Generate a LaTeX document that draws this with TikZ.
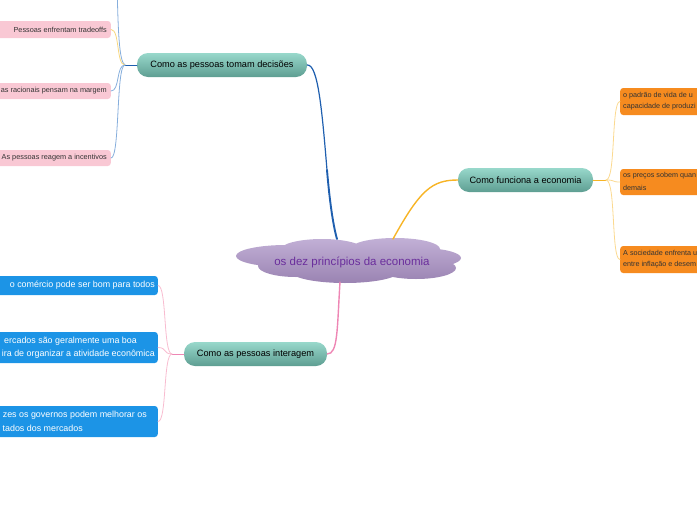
\documentclass[tikz,border=0pt]{standalone}
\usepackage{fontspec}
\setmainfont{Liberation Sans}
\definecolor{tealtop}{HTML}{98D8CB}
\definecolor{tealbot}{HTML}{5E9E92}
\definecolor{pinkfill}{HTML}{F9C8D4}
\definecolor{orangefill}{HTML}{F68B1F}
\definecolor{bluefill}{HTML}{1C94E6}
\definecolor{darkblueline}{HTML}{1F5FAF}
\definecolor{lightblueline}{HTML}{86AEDC}
\definecolor{yellowline}{HTML}{F7D77E}
\definecolor{orangeline}{HTML}{F7B425}
\definecolor{orangebranch}{HTML}{FBD98F}
\definecolor{pinkline}{HTML}{EE86B4}
\definecolor{pinkbranch}{HTML}{F8BCD0}
\definecolor{cloudtop}{HTML}{C2B0D6}
\definecolor{cloudbot}{HTML}{9A83B2}
\definecolor{cloudtext}{HTML}{6A2E9C}
\definecolor{darktext}{HTML}{333333}
\begin{document}
\begin{tikzpicture}[x=1pt,y=-1pt,
  pill/.style={rounded corners=11pt, top color=tealtop, bottom color=tealbot, draw=none,
    minimum height=24pt, inner sep=0pt, font=\fontsize{9.2}{11}\selectfont, text=black},
  pinkbox/.style={fill=pinkfill, rounded corners=3pt, inner sep=0pt},
  bluebox/.style={fill=bluefill, rounded corners=3pt, inner sep=0pt},
  orangebox/.style={fill=orangefill, rounded corners=3pt, inner sep=0pt},
  pinktext/.style={inner sep=0pt, text=darktext, font=\fontsize{7.3}{9}\selectfont},
  bluetext/.style={inner sep=0pt, text=white, font=\fontsize{8.9}{10}\selectfont},
  orangetext/.style={inner sep=0pt, text=darktext, font=\fontsize{7.2}{9}\selectfont},
  conn/.style={line cap=round, fill=none}]
\useasboundingbox (0,0) rectangle (697,520);
\clip (0,0) rectangle (697,520);

% central cloud
\shade[top color=cloudtop, bottom color=cloudbot]
  (286,256) ellipse [x radius=50, y radius=11]
  (322,250) ellipse [x radius=42, y radius=11]
  (395,249) ellipse [x radius=45, y radius=11]
  (420,258) ellipse [x radius=41, y radius=10]
  (296,266) ellipse [x radius=38, y radius=11]
  (345,271) ellipse [x radius=55, y radius=12]
  (416,268) ellipse [x radius=40, y radius=11]
  (350,260) ellipse [x radius=88, y radius=16];
\node[inner sep=0pt, text=cloudtext, font=\fontsize{11.5}{13}\selectfont] (root) at (352,262) {os dez princípios da economia};
\coordinate (ctop) at (337,239);
\coordinate (ctopr) at (393,239);
\coordinate (cbot) at (340,282);

% main topics
\node[pill, minimum width=170pt] (d1) at (222,65) {Como as pessoas tomam decisões};
\node[pill, minimum width=135pt] (d2) at (525.5,180) {Como funciona a economia};
\node[pill, minimum width=143pt] (d3) at (255.5,354) {Como as pessoas interagem};

% main connectors
\draw[conn, darkblueline, line width=1.2pt] (d1.east) .. controls (318,64) and (322,110) .. (327,170);
\draw[conn, darkblueline, line width=1.9pt] (327,170) .. controls (329.5,200) and (333,225) .. (ctop);
\draw[conn, orangeline, line width=1.4pt] (ctopr) .. controls (420,190) and (432,180) .. (d2.west);
\draw[conn, pinkline, line width=1.4pt] (cbot) .. controls (337,330) and (338,354) .. (d3.east);

% left upper branch
\node[pinkbox, minimum width=141pt, minimum height=17pt, anchor=east] (p1) at (111,29.5) {};
\node[pinktext, anchor=east] (p1t) at (107,30) {Pessoas enfrentam tradeoffs};
\node[pinkbox, minimum width=141pt, minimum height=16pt, anchor=east] (p2) at (111,91) {};
\node[pinktext, anchor=east] (p2t) at (107,91) {as racionais pensam na margem};
\node[pinkbox, minimum width=141pt, minimum height=16pt, anchor=east] (p3) at (111,158) {};
\node[pinktext, anchor=east] (p3t) at (107,158) {As pessoas reagem a incentivos};
\coordinate (h1) at (125,65);
\coordinate (upend) at (117,-20);
\draw[conn, darkblueline, line width=1pt] (d1.west) -- (h1);
\draw[conn, lightblueline, line width=0.8pt] (h1) .. controls (119,62) and (118,30) .. (upend);
\draw[conn, yellowline, line width=0.8pt] (h1) .. controls +(-9,0) and +(9,0) .. (p1.east);
\draw[conn, lightblueline, line width=0.8pt] (h1) .. controls +(-9,0) and +(9,0) .. (p2.east);
\draw[conn, lightblueline, line width=0.8pt] (h1) .. controls +(-9,0) and +(9,0) .. (p3.east);

% right branch
\node[orangebox, minimum width=100pt, minimum height=27pt, anchor=west] (o1) at (620,101.5) {};
\node[orangetext, anchor=west] (o1a) at (623,96) {o padrão de vida de u};
\node[orangetext, anchor=west] (o1b) at (623,107) {capacidade de produzi};
\node[orangebox, minimum width=100pt, minimum height=26pt, anchor=west] (o2) at (620,182) {};
\node[orangetext, anchor=west] (o2a) at (623,176) {os preços sobem quan};
\node[orangetext, anchor=west] (o2b) at (623,188) {demais};
\node[orangebox, minimum width=100pt, minimum height=27pt, anchor=west] (o3) at (620,259.5) {};
\node[orangetext, anchor=west] (o3a) at (623,253) {A sociedade enfrenta u};
\node[orangetext, anchor=west] (o3b) at (623,265) {entre inflação e desem};
\coordinate (h2) at (606,180);
\draw[conn, orangeline, line width=1pt] (d2.east) -- (h2);
\draw[conn, orangebranch, line width=0.8pt] (h2) .. controls +(10,0) and +(-9,0) .. (o1.west);
\draw[conn, orangebranch, line width=0.8pt] (h2) .. controls +(10,0) and +(-9,0) .. (o2.west);
\draw[conn, orangebranch, line width=0.8pt] (h2) .. controls +(10,0) and +(-9,0) .. (o3.west);

% lower branch
\node[bluebox, minimum width=188pt, minimum height=19pt, anchor=east] (b1) at (158,285.5) {};
\node[bluetext, anchor=east] (b1t) at (155,285.5) {o comércio pode ser bom para todos};
\node[bluebox, minimum width=188pt, minimum height=31pt, anchor=east] (b2) at (158,347.5) {};
\node[bluetext, anchor=east] (b2a) at (137,341) {ercados são geralmente uma boa};
\node[bluetext, anchor=east] (b2b) at (155,354) {ira de organizar a atividade econômica};
\node[bluebox, minimum width=188pt, minimum height=31pt, anchor=east] (b3) at (158,421.5) {};
\node[bluetext, anchor=east] (b3a) at (147,415) {zes os governos podem melhorar os};
\node[bluetext, anchor=east] (b3b) at (83,428) {tados dos mercados};
\coordinate (h3) at (172,354);
\draw[conn, pinkline, line width=1pt] (d3.west) -- (h3);
\draw[conn, pinkbranch, line width=0.8pt] (h3) .. controls +(-9,0) and +(9,0) .. (b1.east);
\draw[conn, pinkbranch, line width=0.8pt] (h3) .. controls +(-9,0) and +(9,0) .. (b2.east);
\draw[conn, pinkbranch, line width=0.8pt] (h3) .. controls +(-9,0) and +(9,0) .. (b3.east);
\end{tikzpicture}
\end{document}
